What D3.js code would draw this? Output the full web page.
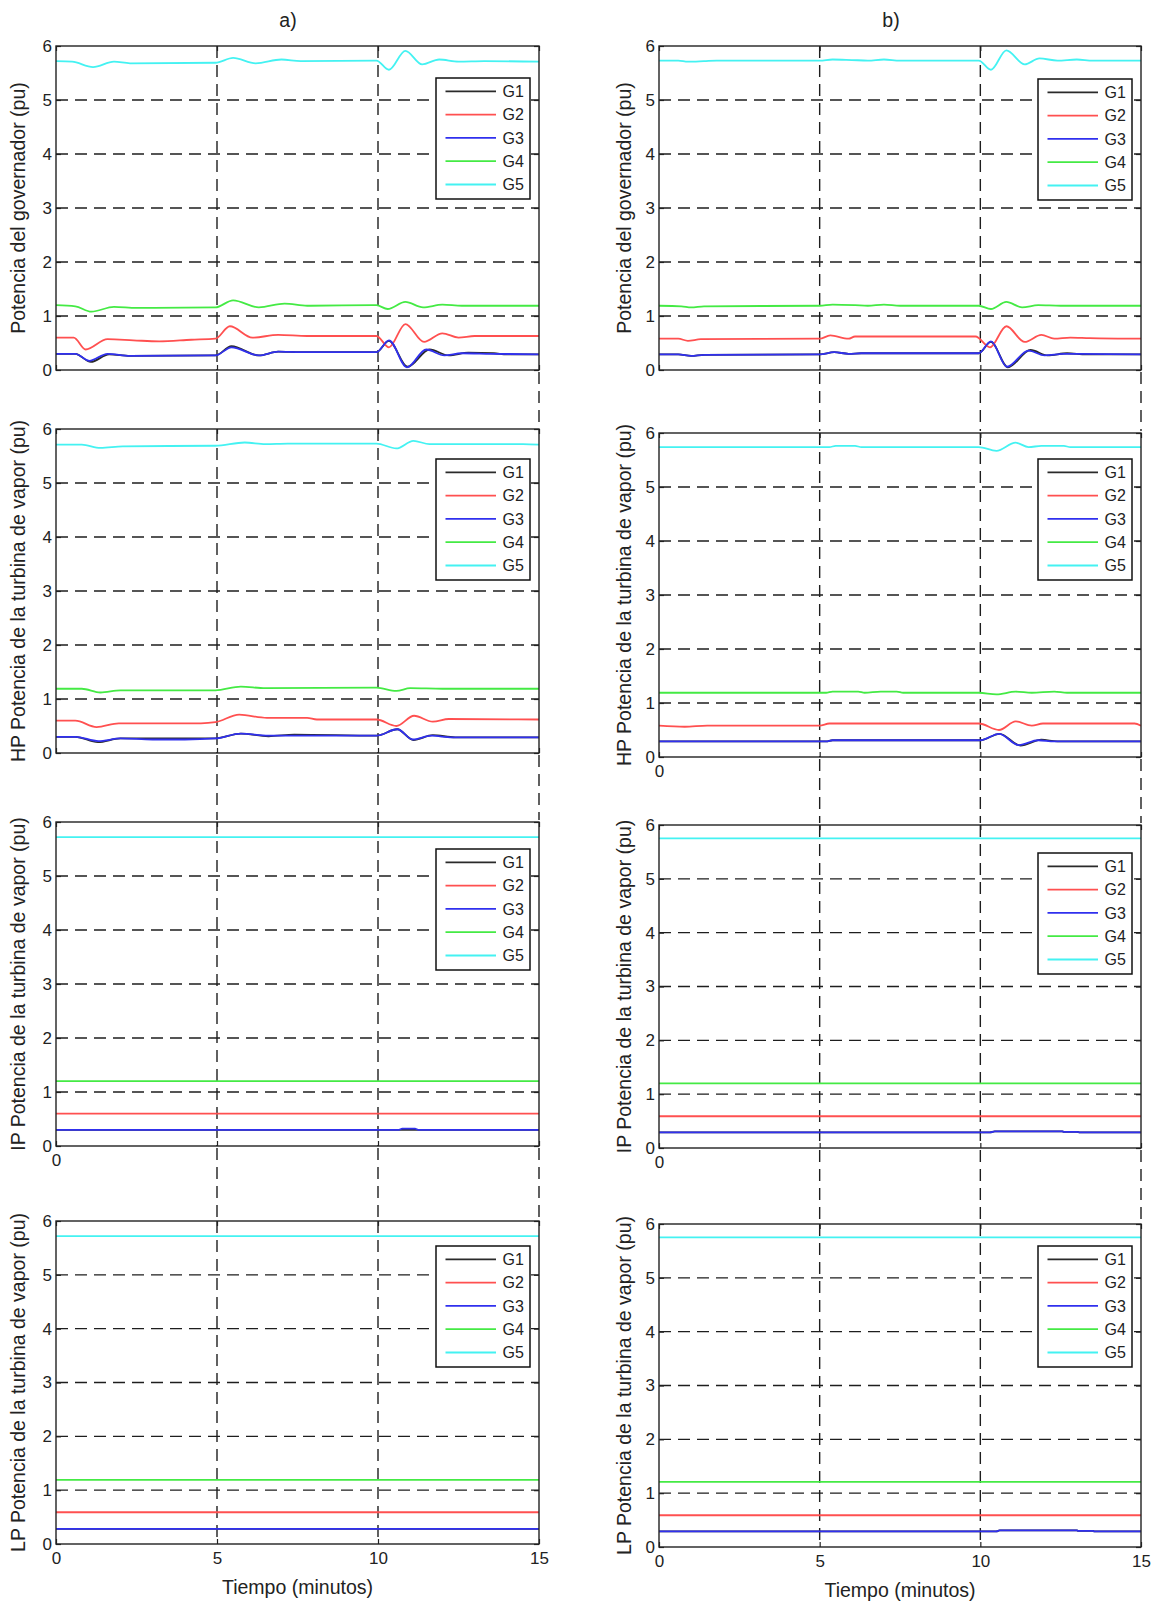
<!DOCTYPE html>
<html>
<head>
<meta charset="utf-8">
<script src="https://cdn.jsdelivr.net/npm/d3@7"></script>
<style>
  html, body { margin: 0; padding: 0; background: #fff; }
  text { font-family: "Liberation Sans", Arial, sans-serif; fill: #222; }
</style>
</head>
<body>
<script>
// ---------------- DATA ----------------
const xTicks = [0, 5, 10, 15];
const yTicks = [0, 1, 2, 3, 4, 5, 6];
const genNames = ["G1", "G2", "G3", "G4", "G5"];
const panelTitles = ["a)", "b)"];
const yLabels = [
  "Potencia del governador (pu)",
  "HP Potencia de la turbina de vapor (pu)",
  "IP Potencia de la turbina de vapor (pu)",
  "LP Potencia de la turbina de vapor (pu)"
];
const xLabel = "Tiempo (minutos)";

// Governor power, case a  ([minutes, pu])
const govA_G1 = [[0,0.3],[0.6,0.3],[1.08,0.15],[1.65,0.29],[2.3,0.26],[4.95,0.27],[5.45,0.44],[6.3,0.27],[6.9,0.34],[7.6,0.33],[9.95,0.33],[10.34,0.54],[10.92,0.06],[11.6,0.38],[12.2,0.27],[12.8,0.32],[13.6,0.31],[14,0.29],[15,0.29]];
const govA_G2 = [[0,0.6],[0.55,0.6],[0.92,0.38],[1.6,0.57],[2.4,0.55],[3.2,0.53],[4.2,0.56],[4.95,0.58],[5.4,0.81],[6.1,0.6],[6.9,0.65],[7.8,0.63],[9.95,0.63],[10.34,0.42],[10.85,0.85],[11.43,0.52],[12.0,0.68],[12.5,0.6],[13,0.63],[15,0.63]];
const govA_G3 = [[0,0.3],[0.6,0.3],[1.03,0.17],[1.6,0.3],[2.3,0.26],[4.95,0.27],[5.45,0.42],[6.3,0.27],[6.9,0.34],[7.6,0.33],[9.95,0.33],[10.34,0.55],[10.9,0.05],[11.5,0.38],[12.06,0.27],[12.6,0.31],[13.5,0.3],[15,0.29]];
const govA_G4 = [[0,1.2],[0.6,1.18],[1.1,1.08],[1.8,1.17],[2.5,1.15],[4.95,1.16],[5.5,1.29],[6.3,1.16],[7.1,1.23],[7.8,1.19],[9.95,1.2],[10.3,1.13],[10.85,1.26],[11.4,1.16],[12,1.21],[12.6,1.19],[15,1.19]];
const govA_G5 = [[0,5.72],[0.5,5.71],[1.15,5.61],[1.8,5.71],[2.3,5.68],[4.95,5.69],[5.5,5.78],[6.2,5.68],[7.0,5.75],[7.6,5.72],[9.95,5.73],[10.34,5.56],[10.85,5.91],[11.37,5.66],[11.9,5.75],[12.5,5.71],[13.3,5.72],[15,5.71]];

// Governor power, case b
const govB_G1 = [[0,0.29],[0.6,0.29],[1.0,0.26],[1.4,0.28],[5,0.29],[5.45,0.33],[5.9,0.3],[6.3,0.31],[9.95,0.31],[10.33,0.52],[10.86,0.05],[11.56,0.37],[12.1,0.27],[12.7,0.31],[13.3,0.29],[15,0.29]];
const govB_G2 = [[0,0.58],[0.6,0.58],[0.9,0.54],[1.3,0.57],[5,0.58],[5.33,0.64],[5.9,0.58],[6.1,0.62],[9.85,0.62],[10.3,0.42],[10.81,0.81],[11.38,0.52],[11.9,0.65],[12.3,0.58],[12.8,0.6],[13.4,0.59],[15,0.58]];
const govB_G3 = [[0,0.29],[0.6,0.29],[1.0,0.26],[1.4,0.28],[5,0.29],[5.45,0.33],[5.9,0.3],[6.3,0.31],[9.95,0.31],[10.33,0.53],[10.83,0.06],[11.5,0.36],[12.0,0.27],[12.6,0.3],[15,0.29]];
const govB_G4 = [[0,1.19],[0.7,1.18],[1.0,1.16],[1.4,1.18],[5,1.19],[5.4,1.21],[6.1,1.2],[6.5,1.19],[7.0,1.21],[7.5,1.19],[9.95,1.19],[10.33,1.13],[10.81,1.26],[11.3,1.16],[11.8,1.2],[12.5,1.19],[15,1.19]];
const govB_G5 = [[0,5.73],[0.6,5.73],[0.9,5.71],[1.4,5.72],[1.8,5.73],[5.0,5.73],[5.4,5.75],[6.0,5.74],[6.5,5.73],[7.0,5.75],[7.5,5.73],[9.95,5.73],[10.33,5.56],[10.81,5.92],[11.38,5.66],[11.84,5.77],[12.4,5.73],[13.0,5.75],[13.5,5.73],[15,5.73]];

// HP turbine power, case a
const hpA_G1 = [[0,0.3],[0.6,0.3],[1.3,0.2],[2.0,0.27],[4.95,0.27],[5.74,0.36],[6.6,0.31],[7.4,0.34],[9.95,0.32],[10.6,0.44],[11.1,0.24],[11.7,0.33],[12.4,0.29],[15,0.29]];
const hpA_G2 = [[0,0.6],[0.6,0.6],[1.26,0.48],[1.95,0.55],[4.5,0.55],[4.95,0.57],[5.69,0.71],[6.55,0.65],[7.8,0.65],[8.1,0.62],[9.95,0.62],[10.57,0.5],[11.12,0.69],[11.7,0.58],[12.2,0.63],[15,0.62]];
const hpA_G3 = [[0,0.3],[0.6,0.3],[1.32,0.22],[2.0,0.27],[3,0.25],[4.0,0.25],[4.95,0.27],[5.74,0.36],[6.6,0.32],[9.95,0.32],[10.6,0.44],[11.08,0.25],[11.66,0.32],[12.3,0.29],[15,0.29]];
const hpA_G4 = [[0,1.19],[0.8,1.19],[1.38,1.12],[2.0,1.16],[4.95,1.16],[5.74,1.23],[6.5,1.2],[9.95,1.21],[10.57,1.15],[11.0,1.2],[12.0,1.19],[15,1.19]];
const hpA_G5 = [[0,5.71],[0.8,5.71],[1.38,5.65],[2.07,5.68],[4.95,5.69],[5.86,5.75],[6.5,5.72],[7.2,5.73],[9.95,5.73],[10.57,5.64],[11.1,5.78],[11.6,5.72],[14.5,5.72],[15,5.71]];

// HP turbine power, case b
const hpB_G1 = [[0,0.29],[5.2,0.29],[5.4,0.31],[10.0,0.31],[10.6,0.43],[11.25,0.21],[11.9,0.32],[12.4,0.29],[15,0.29]];
const hpB_G2 = [[0,0.58],[0.8,0.56],[1.5,0.58],[5.0,0.58],[5.3,0.62],[9.95,0.62],[10.58,0.5],[11.1,0.66],[11.6,0.58],[11.95,0.62],[14.8,0.62],[15,0.58]];
const hpB_G3 = [[0,0.29],[5.2,0.29],[5.4,0.31],[10.0,0.31],[10.58,0.43],[11.2,0.22],[11.8,0.31],[12.3,0.29],[15,0.29]];
const hpB_G4 = [[0,1.19],[5.2,1.19],[5.4,1.21],[6.2,1.21],[6.4,1.19],[6.9,1.21],[7.4,1.21],[7.6,1.19],[9.95,1.19],[10.5,1.16],[11.1,1.21],[11.6,1.19],[12.3,1.21],[12.7,1.19],[15,1.19]];
const hpB_G5 = [[0,5.74],[5.3,5.74],[5.5,5.76],[6.1,5.76],[6.3,5.74],[9.95,5.74],[10.5,5.67],[11.1,5.82],[11.5,5.74],[11.9,5.76],[12.6,5.76],[12.8,5.74],[15,5.74]];

// IP turbine power, case a
const ipA_G1 = [[0,0.3],[15,0.3]];
const ipA_G2 = [[0,0.6],[15,0.6]];
const ipA_G3 = [[0,0.3],[10.65,0.3],[10.75,0.32],[11.15,0.32],[11.25,0.3],[15,0.3]];
const ipA_G4 = [[0,1.2],[15,1.2]];
const ipA_G5 = [[0,5.72],[15,5.72]];

// IP turbine power, case b
const ipB_G1 = [[0,0.29],[10.3,0.29],[10.45,0.31],[12.55,0.31],[12.6,0.3],[13.0,0.3],[13.1,0.29],[15,0.29]];
const ipB_G2 = [[0,0.59],[15,0.59]];
const ipB_G3 = [[0,0.29],[10.3,0.29],[10.45,0.31],[12.55,0.31],[12.6,0.3],[13.0,0.3],[13.1,0.29],[15,0.29]];
const ipB_G4 = [[0,1.2],[15,1.2]];
const ipB_G5 = [[0,5.75],[15,5.75]];

// LP turbine power, case a
const lpA_G1 = [[0,0.28],[15,0.28]];
const lpA_G2 = [[0,0.59],[15,0.59]];
const lpA_G3 = [[0,0.28],[15,0.28]];
const lpA_G4 = [[0,1.19],[15,1.19]];
const lpA_G5 = [[0,5.72],[15,5.72]];

// LP turbine power, case b
const lpB_G1 = [[0,0.29],[10.5,0.29],[10.6,0.31],[13.0,0.31],[13.05,0.3],[13.5,0.3],[13.55,0.29],[15,0.29]];
const lpB_G2 = [[0,0.59],[15,0.59]];
const lpB_G3 = [[0,0.29],[10.5,0.29],[10.6,0.31],[13.0,0.31],[13.05,0.3],[13.5,0.3],[13.55,0.29],[15,0.29]];
const lpB_G4 = [[0,1.21],[15,1.21]];
const lpB_G5 = [[0,5.75],[15,5.75]];

// ---------------- STYLE / LAYOUT ----------------
const genColors = ["#2a2a2a", "#ff5050", "#3030ee", "#44ea44", "#44f2f2"];
const FONT = '"Liberation Sans", Arial, sans-serif';
const W = 1156, H = 1602;

const cols = [
  { l: 56, r: 539, ylx: 18.5, titleX: 288 },
  { l: 659, r: 1141, ylx: 624, titleX: 891 }
];
const rowsA = [[46, 370], [429, 753], [822, 1146], [1221, 1544]];
const rowsB = [[46, 370], [433, 757], [825, 1148], [1224, 1547]];
const legendTopsA = [78, 459, 849, 1246];
const legendTopsB = [79, 459, 853, 1246];

const seriesA = [
  [govA_G1, govA_G2, govA_G3, govA_G4, govA_G5],
  [hpA_G1, hpA_G2, hpA_G3, hpA_G4, hpA_G5],
  [ipA_G1, ipA_G2, ipA_G3, ipA_G4, ipA_G5],
  [lpA_G1, lpA_G2, lpA_G3, lpA_G4, lpA_G5]
];
const seriesB = [
  [govB_G1, govB_G2, govB_G3, govB_G4, govB_G5],
  [hpB_G1, hpB_G2, hpB_G3, hpB_G4, hpB_G5],
  [ipB_G1, ipB_G2, ipB_G3, ipB_G4, ipB_G5],
  [lpB_G1, lpB_G2, lpB_G3, lpB_G4, lpB_G5]
];
// which x tick labels are shown under each row: 'none' | 'zero' | 'all'
const xLabelModeA = ["none", "none", "zero", "all"];
const xLabelModeB = ["none", "zero", "zero", "all"];

const svg = d3.select("body").append("svg")
  .attr("width", W).attr("height", H)
  .style("display", "block");
svg.append("rect").attr("width", W).attr("height", H).attr("fill", "#fff");

const DASH = "12,7";
const GRID_COLOR = "#1e1e1e";

function drawPanel(col, rowBox, series, ylabel, legendTop, xMode, withXLabel) {
  const [t, b] = rowBox;
  const x = d3.scaleLinear().domain([0, 15]).range([col.l, col.r]);
  const y = d3.scaleLinear().domain([0, 6]).range([b, t]);
  const g = svg.append("g");

  // grid
  g.selectAll(".hg").data(yTicks.filter(v => v > 0 && v < 6)).join("line")
    .attr("x1", col.l).attr("x2", col.r)
    .attr("y1", d => y(d)).attr("y2", d => y(d))
    .attr("stroke", GRID_COLOR).attr("stroke-width", 1.4)
    .attr("stroke-dasharray", DASH);
  g.selectAll(".vg").data(xTicks.filter(v => v > 0 && v < 15)).join("line")
    .attr("x1", d => x(d)).attr("x2", d => x(d))
    .attr("y1", t).attr("y2", b)
    .attr("stroke", GRID_COLOR).attr("stroke-width", 1.4)
    .attr("stroke-dasharray", DASH);

  // series
  const clipId = "clip" + Math.round(col.l) + "_" + Math.round(t);
  svg.append("clipPath").attr("id", clipId).append("rect")
    .attr("x", col.l).attr("y", t).attr("width", col.r - col.l).attr("height", b - t);
  const line = d3.line().x(d => x(d[0])).y(d => y(d[1])).curve(d3.curveMonotoneX);
  const lg = g.append("g").attr("clip-path", `url(#${clipId})`);
  series.forEach((s, i) => {
    lg.append("path").attr("d", line(s))
      .attr("fill", "none").attr("stroke", genColors[i])
      .attr("stroke-width", 1.8).attr("stroke-linejoin", "round");
  });

  // axes (MATLAB-like inward ticks)
  const yAxisL = d3.axisLeft(y).tickValues(yTicks).tickSizeInner(-5).tickSizeOuter(0)
    .tickPadding(4).tickFormat(d3.format("d"));
  const ga = g.append("g").attr("transform", `translate(${col.l},0)`).call(yAxisL);
  const yAxisR = d3.axisRight(y).tickValues(yTicks).tickSizeInner(-5).tickSizeOuter(0).tickFormat("");
  const gr = g.append("g").attr("transform", `translate(${col.r},0)`).call(yAxisR);
  const fmt = v => xMode === "all" ? String(v) : (xMode === "zero" && v === 0 ? "0" : "");
  const xAxisB = d3.axisBottom(x).tickValues(xTicks).tickSizeInner(-5).tickSizeOuter(0).tickPadding(8).tickFormat(fmt);
  const gb = g.append("g").attr("transform", `translate(0,${b})`).call(xAxisB);
  const xAxisT = d3.axisTop(x).tickValues(xTicks).tickSizeInner(-5).tickSizeOuter(0).tickFormat("");
  const gt = g.append("g").attr("transform", `translate(0,${t})`).call(xAxisT);
  [ga, gr, gb, gt].forEach(a => {
    a.select(".domain").remove();
    a.selectAll(".tick line").attr("stroke", "#222").attr("stroke-width", 1.2);
    a.selectAll("text").style("font-family", FONT).style("font-size", "17px").attr("fill", "#222");
  });

  // frame
  g.append("rect").attr("x", col.l).attr("y", t)
    .attr("width", col.r - col.l).attr("height", b - t)
    .attr("fill", "none").attr("stroke", "#222").attr("stroke-width", 1.4);

  // y label
  g.append("text")
    .attr("transform", `translate(${col.ylx},${(t + b) / 2}) rotate(-90)`)
    .attr("text-anchor", "middle").attr("dy", "0.35em")
    .style("font-size", "19.5px").text(ylabel);

  if (withXLabel) {
    g.append("text").attr("x", (col.l + col.r) / 2).attr("y", b + 43)
      .attr("text-anchor", "middle").attr("dy", "0.35em")
      .style("font-size", "19.5px").text(xLabel);
  }

  // legend
  const legW = 94, legH = 121;
  const lx = col.r - 9 - legW, ly = legendTop;
  const leg = g.append("g");
  leg.append("rect").attr("x", lx).attr("y", ly).attr("width", legW).attr("height", legH)
    .attr("fill", "#fff").attr("stroke", "#111").attr("stroke-width", 1.5);
  genNames.forEach((nm, i) => {
    const yy = ly + 13.3 + i * 23.3;
    leg.append("line").attr("x1", lx + 9.5).attr("x2", lx + 60)
      .attr("y1", yy).attr("y2", yy)
      .attr("stroke", genColors[i]).attr("stroke-width", 1.8);
    leg.append("text").attr("x", lx + 66.5).attr("y", yy).attr("dy", "0.36em")
      .style("font-size", "16px").text(nm);
  });

  return x;
}

[cols[0], cols[1]].forEach((col, ci) => {
  const rows = ci === 0 ? rowsA : rowsB;
  const ser = ci === 0 ? seriesA : seriesB;
  const legTops = ci === 0 ? legendTopsA : legendTopsB;
  const modes = ci === 0 ? xLabelModeA : xLabelModeB;
  let xs;
  rows.forEach((rb, ri) => {
    xs = drawPanel(col, rb, ser[ri], yLabels[ri], legTops[ri], modes[ri], ri === rows.length - 1);
  });
  // dashed vertical lines crossing the gaps between rows
  const gapData = [];
  for (let i = 0; i < rows.length - 1; i++) {
    [5, 10, 15].forEach(v => gapData.push({ v, y1: rows[i][1] + 2, y2: rows[i + 1][0] - 2 }));
  }
  svg.append("g").selectAll("line").data(gapData).join("line")
    .attr("x1", d => xs(d.v)).attr("x2", d => xs(d.v))
    .attr("y1", d => d.y1).attr("y2", d => d.y2)
    .attr("stroke", GRID_COLOR).attr("stroke-width", 1.4)
    .attr("stroke-dasharray", DASH);

  // panel title
  svg.append("text").attr("x", col.titleX).attr("y", 20.5)
    .attr("text-anchor", "middle").attr("dy", "0.35em")
    .style("font-size", "19.5px").text(panelTitles[ci]);
});
</script>
</body>
</html>
